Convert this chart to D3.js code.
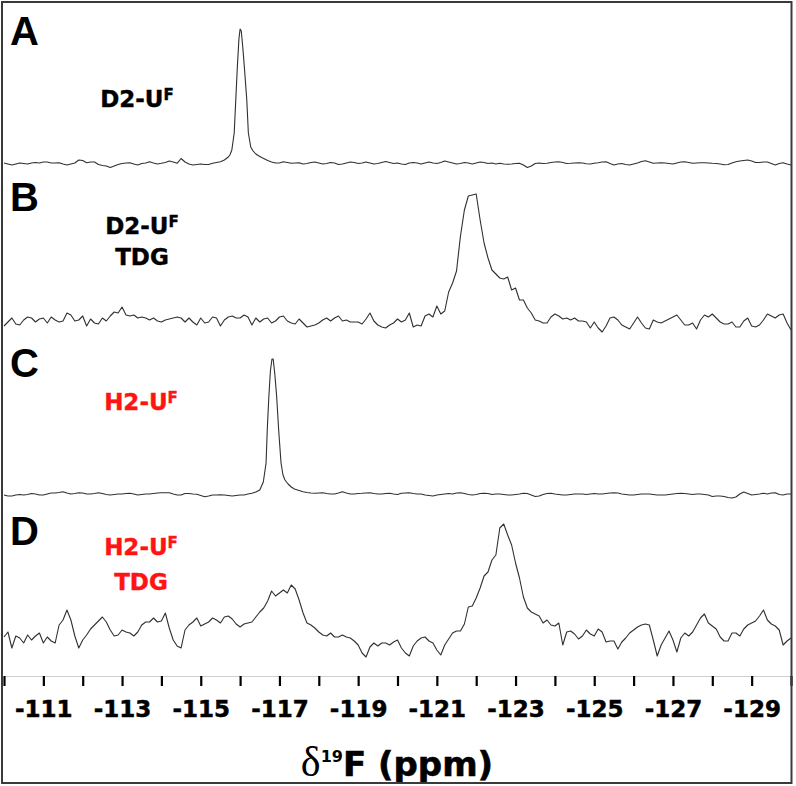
<!DOCTYPE html>
<html>
<head>
<meta charset="utf-8">
<script src="https://cdn.jsdelivr.net/npm/d3@7"></script>
<style>
  body { margin: 0; background: #fff; }
  svg { display: block; }
</style>
</head>
<body>
<script>
// spectra are sampled every 0.1 ppm, from -110 to -130 ppm
const ppmFirst = -110
const ppmStep = -0.1

// intensity above each trace's baseline (arb. units); null = covered by the fine peak trace
const specA = [
  0, -1, -2, -1, 0, -0.5, -1, 0, 0.5, 0,
  1, 1, 0, 0, 0.3, -1, -2, -1, 0, 3,
  2.5, 0.3, 1, 1, -1.5, -2.5, -3, -4.5, -3, -1.5,
  -0.5, 0, 0.3, -1, -2, -0.5, 0, 1.3, 0, -1,
  -0.3, 0.5, 2, 1, -0.3, 4.5, 1, -1, -2, -1.5,
  -1, -1.5, -1.5, -0.3, 0.5, 1.3, 3, 6, null, null,
  null, null, null, null, null, null, 4.5, 2.5, 1, 0,
  0, 1.3, 0.5, -0.3, 0, 0.3, -1, -0.5, 0.5, 1,
  0, -1, -0.5, 0.5, 0, -1.5, -1, 0, 1, 0.5,
  -0.5, 0, 1, 0, -1, -0.5, 0.5, 1.5, 0.5, -0.5,
  0, -1, -1.5, 0, 0.5, 0, -1, 0, 1, 0,
  -0.5, 0.5, 2, 1, 0, -1, -0.5, 0.5, 0, -1,
  0, 1, 0.5, -0.5, 0, -1, -0.3, -1, -1.3, -1,
  -0.5, -0.3, -2, -4.5, -3, -0.5, 0, -0.5, -0.3, 0.5,
  1, 1.3, 0.5, -0.5, -0.3, 0, 0.3, 0, -0.7, -1,
  -0.3, 0.3, 1, 1.3, -0.5, -2, -1, -0.5, -1.5, -2,
  -1, 0, 1.5, 2.3, 1, -0.3, 0, 0.3, 0, -0.5,
  -1, 0, 1, 1.3, 0.5, -0.3, 0, 0.3, 0.3, 0,
  -0.3, -0.5, -1, -1.7, -1.5, 0, 1.3, 2, 2.5, 3,
  2, 0.5, 0.5, 1, 1, -0.5, -2, -0.5, 0.3, -1, -2
]
const peakA = [
  [-115.74, 8], [-115.79, 13], [-115.85, 30], [-115.89, 63], [-115.93, 96],
  [-115.97, 124], [-116.00, 134], [-116.03, 132], [-116.07, 115], [-116.11, 95],
  [-116.17, 63], [-116.21, 30], [-116.27, 16], [-116.33, 12], [-116.40, 9],
  [-116.48, 7], [-116.55, 5.5]
]

const specB = [
  -4, 0, 4, -2, -3, 2, 5, 4, 0, 3,
  4, -1, 5, 2, 0, 1, 9, 7, 1, 2,
  6, -4, 3, -1, -2, 4, 1, 6, 10, 9,
  15, 7, 6, 7, 4, 5, 4, 2, 4, 1,
  0, 2, 3, 4, 5, 4, 0, 4, 0, -3,
  4, -1, 0, 5, 4, -4, 2, 5, 6, 4,
  4, 7, 5, -3, 4, 0, 3, 4, -1, 1,
  5, 6, 1, -1, -2, 3, -1, -5, -4, -3,
  -1, 2, 4, 1, 4, 6, 1, 2, 0, 0,
  0, -2, 3, 9, 1, -3, -5, -6, -3, -1,
  3, 0, 2, 9, -5, -3, -4, 6, 8, 5,
  16, 8, 11, 30, 39, 51, 86, 112, 126, 127,
  128, 102, 79, 64, 52, 48, 44, 43, 45, 32,
  34, 22, 22, 14, 9, 2, 1, -1, -1, 5,
  8, 6, 3, 4, 2, 4, 1, 1, 0, -6,
  0, -6, -10, -4, 4, 5, 2, -3, -5, -7,
  -1, 5, -1, -6, -7, 2, 0, -1, 1, 3,
  5, 7, 2, -3, -3, -1, -7, 2, 7, 5,
  8, 4, 0, -2, -2, 0, -5, -5, 1, 4,
  -4, -5, -3, 2, 8, 6, 4, 7, 8, -1, -8
]

const specC = [
  0, -1, -1, 0, 0.5, 0, 0.5, 1.5, 1, 0,
  0, 1, 2, 2, 2.5, 3.3, 2, 1, 1.5, 2.3,
  2, 1, 1, 1.5, 2.3, 1.5, 0.5, 0, 0.5, 1,
  1, 1.5, 1.7, 1, 0, 0.5, 1, 1, 1.5, 2,
  2.3, 2.3, 2.3, 1, 0, 0, 1.5, 1.5, 1, 0.7,
  -0.5, -1.7, -1, 0, 0, 0.3, 0, -0.5, -1, -0.5,
  0, 0, 1, 1.7, 3, null, null, null, null, null,
  null, null, null, null, null, 4.5, 3.3, 2.5, 2, 1.7,
  2, 2.3, 1.5, 1, 1, 2, 3.3, 2, 1, 1,
  1.5, 1.7, 2, 2.3, 1.5, 1, 1, 1.5, 1.7, 1,
  0.5, 1.7, 2, 2.3, 1.5, 1, 1, 0, -0.5, -1,
  0, 0.5, 1, 1.5, 1, 2, 2.3, 1.5, 0.5, 0,
  0.5, 1.5, 1.7, 1.5, 0.5, 1, 1, 0.5, 0, 0,
  0.5, 1, 1.7, 1.5, 0, -1.5, -1, 0.5, 1.5, 1.7,
  1, 0.5, 0, 0, 0.5, 1, 1, 1, 0.5, 1,
  1.5, 1, 1, 1.5, 2, 2.3, 2, 1, 0.5, 0,
  0, 0.5, 1, 1, 1, 0.5, 0, 0, 0, 0.5,
  1, 1.5, 1.7, 1.5, 1, 0.5, 1, 1, 0.5, 0,
  -1.5, -1, -1, -1.5, -2.5, -3, -2, 1, 3, 1.5,
  0, 0.5, 1, 1.7, 1, 2, 2.3, 0.5, 0, 1, 1
]
const peakC = [
  [-116.50, 5], [-116.59, 13], [-116.66, 32], [-116.69, 65], [-116.73, 98],
  [-116.77, 124], [-116.81, 136], [-116.84, 136], [-116.88, 122], [-116.93, 98],
  [-116.98, 65], [-117.04, 32], [-117.09, 20], [-117.14, 15], [-117.22, 11],
  [-117.30, 8], [-117.38, 6]
]

const specD = [
  -2, 3, -13, -1, -3, -8, 0, -5, -1, 2,
  -8, -2, -6, -8, 10, 15, 25, 15, -1, -13,
  -5, 0, 6, 10, 14, 18, 13, 5, -1, 0,
  5, 3, 2, -1, 3, 10, 13, 13, 17, 13,
  14, 22, 7, -5, -11, -13, 5, 10, 13, 17,
  9, 11, 13, 17, 15, 12, 18, 19, 16, 11,
  8, 11, 12, 13, 18, 23, 27, 34, 44, 39,
  42, 45, 42, 50, 46, 35, 22, 12, 10, 7,
  3, 0, -1, 2, -2, -2, 0, -2, -3, -6,
  -10, -18, -22, -12, -8, -11, -8, -8, -10, -7,
  -5, -13, -18, -21, -11, -6, -3, -2, -6, -8,
  -15, -20, -10, -4, 2, 4, 4, 11, 28, 29,
  37, 47, 59, 63, 75, 80, 107, 111, 100, 90,
  72, 57, 38, 27, 23, 21, 19, 12, 15, 10,
  9, 12, -10, 3, 4, 1, -4, -1, 5, 1,
  -1, 6, 3, -7, -6, -6, -14, -7, -3, 2,
  5, 8, 10, 11, 10, -5, -21, -10, -3, 4,
  -5, -17, -3, 2, -1, 3, 10, 17, 21, 12,
  9, 6, -2, -6, -6, 2, 2, -1, 6, 10,
  12, 14, 19, 25, 15, 11, 9, 5, -10, -6, -3
]

const panelLetters = ['A', 'B', 'C', 'D']
// each sample label: lines of [main text, superscript]
const sampleNames = [
  [['D2-U', 'F']],
  [['D2-U', 'F'], ['TDG', '']],
  [['H2-U', 'F']],
  [['H2-U', 'F'], ['TDG', '']]
]
const sampleColors = ['#000000', '#000000', '#ff1414', '#ff1414']
const tickPpm = [-110, -111, -112, -113, -114, -115, -116, -117, -118, -119, -120,
                 -121, -122, -123, -124, -125, -126, -127, -128, -129, -130]

const spectra = [[specA, peakA], [specB, []], [specC, peakC], [specD, []]]

// layout
const W = 796, H = 786
const baseY = [163, 322, 495, 635]
const letterY = [45, 211, 377, 545]
const labelX = [137, 142, 141, 141]
const labelY = [[107], [234, 265], [410], [555, 590]]
const axisY = 676

const svg = d3.select('body').append('svg')
    .attr('width', W)
    .attr('height', H)

svg.append('rect')
    .attr('x', 0).attr('y', 0)
    .attr('width', W).attr('height', H)
    .attr('fill', '#fff')

const x = d3.scaleLinear()
    .domain([-110, -130])
    .range([4, 791])

function trace(grid, peak) {
  const pts = grid.map((v, i) => [ppmFirst + i * ppmStep, v]).filter(d => d[1] !== null)
  return pts.concat(peak).sort((a, b) => b[0] - a[0])
}

spectra.forEach(([grid, peak], k) => {
  const y = d3.scaleLinear().domain([0, 100]).range([baseY[k], baseY[k] - 100])
  const line = d3.line().x(d => x(d[0])).y(d => y(d[1]))
  svg.append('path')
      .attr('d', line(trace(grid, peak)))
      .attr('fill', 'none')
      .attr('stroke', '#303030')
      .attr('stroke-width', 1.1)
      .attr('stroke-linejoin', 'round')
})

// panel letters
svg.selectAll('text.letter')
    .data(panelLetters)
    .join('text')
    .attr('class', 'letter')
    .attr('x', 10)
    .attr('y', (d, i) => letterY[i])
    .attr('font-family', 'Liberation Sans, Arial, sans-serif')
    .attr('font-weight', 'bold')
    .attr('font-size', 40)
    .attr('fill', '#000')
    .text(d => d)

// sample labels
sampleNames.forEach((lines, k) => {
  lines.forEach(([main, sup], j) => {
    const t = svg.append('text')
        .attr('x', labelX[k])
        .attr('y', labelY[k][j])
        .attr('text-anchor', 'middle')
        .attr('font-family', 'DejaVu Sans, sans-serif')
        .attr('font-weight', 'bold')
        .attr('font-size', 23)
        .attr('fill', sampleColors[k])
        .attr('stroke', sampleColors[k])
        .attr('stroke-width', 0.4)
    t.append('tspan').text(main)
    if (sup) t.append('tspan').attr('font-size', 15).attr('dy', -7).text(sup)
  })
})

// x axis
const axis = d3.axisBottom(x)
    .tickValues(tickPpm)
    .tickSize(10)
    .tickSizeOuter(0)
    .tickFormat(d => d % 2 ? String(d) : '')

const gAxis = svg.append('g')
    .attr('transform', `translate(0,${axisY})`)
    .call(axis)

gAxis.select('.domain').attr('stroke', '#cfcfcf').attr('stroke-width', 1)
gAxis.selectAll('.tick line').attr('stroke', '#000').attr('stroke-width', 2.2)
gAxis.selectAll('.tick text')
    .attr('y', 41)
    .attr('dy', null)
    .attr('font-family', 'DejaVu Sans, sans-serif')
    .attr('font-weight', 'bold')
    .attr('font-size', 23)
    .attr('fill', '#000')
    .attr('stroke', '#000')
    .attr('stroke-width', 0.5)

// axis title
const title = svg.append('text')
    .attr('x', 397)
    .attr('y', 776)
    .attr('text-anchor', 'middle')
    .attr('fill', '#000')
title.append('tspan')
    .attr('font-family', 'Liberation Serif, serif')
    .attr('font-size', 42)
    .text('δ')
title.append('tspan')
    .attr('font-family', 'DejaVu Sans, sans-serif')
    .attr('font-weight', 'bold')
    .attr('font-size', 16)
    .attr('dy', -14)
    .text('19')
title.append('tspan')
    .attr('font-family', 'DejaVu Sans, sans-serif')
    .attr('font-weight', 'bold')
    .attr('font-size', 34)
    .attr('dy', 14)
    .attr('stroke', '#000')
    .attr('stroke-width', 0.6)
    .text('F (ppm)')

// frame
svg.append('rect')
    .attr('x', 2)
    .attr('y', 2)
    .attr('width', 789.5)
    .attr('height', 781)
    .attr('fill', 'none')
    .attr('stroke', '#3a3a3a')
    .attr('stroke-width', 2)
</script>
</body>
</html>
